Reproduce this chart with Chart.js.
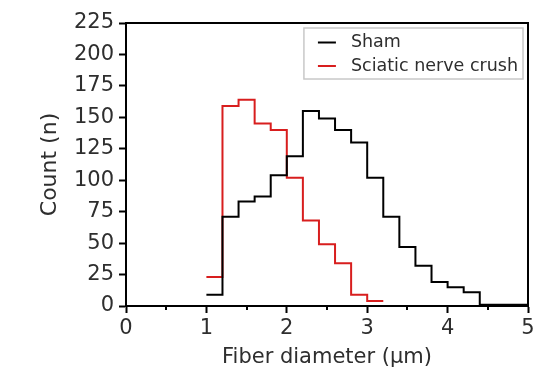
<!DOCTYPE html>
<html>
<head>
<meta charset="utf-8">
<script src="https://cdn.jsdelivr.net/npm/chart.js@4/dist/chart.umd.min.js"></script>
<style>
  html, body { margin: 0; padding: 0; background: #fff; }
  #wrap { width: 559px; height: 371px; }
</style>
</head>
<body>
<div id="wrap"><canvas id="c" width="559" height="371"></canvas></div>
<script>
// ---- data ----
const binWidth = 0.2;
const shamBinStarts = [1.0, 1.2, 1.4, 1.6, 1.8, 2.0, 2.2, 2.4, 2.6, 2.8, 3.0, 3.2, 3.4, 3.6, 3.8, 4.0, 4.2, 4.4, 4.6, 4.8];
const shamCounts    = [9, 71, 83, 87, 104, 119, 155, 149, 140, 130, 102, 71, 47, 32, 19, 15, 11, 1, 1, 1];
const crushBinStarts = [1.0, 1.2, 1.4, 1.6, 1.8, 2.0, 2.2, 2.4, 2.6, 2.8, 3.0];
const crushCounts    = [23, 159, 164, 145, 140, 102, 68, 49, 34, 9, 4];
const seriesLabels = ['Sham', 'Sciatic nerve crush'];
const xTicks = [0, 1, 2, 3, 4, 5];
const yTicks = [0, 25, 50, 75, 100, 125, 150, 175, 200, 225];

function stepPoints(starts, counts) {
  const pts = starts.map((s, i) => ({ x: s, y: counts[i] }));
  pts.push({ x: starts[starts.length - 1] + binWidth, y: counts[counts.length - 1] });
  return pts;
}

const FONT = "'DejaVu Sans', 'Liberation Sans', Arial, sans-serif";
const TXT = '#2e2e2e';

const framePlugin = {
  id: 'frame',
  afterDraw(chart) {
    const { ctx, chartArea: a, scales } = chart;
    ctx.save();
    ctx.strokeStyle = '#000';
    ctx.lineWidth = 2;
    ctx.beginPath();
    ctx.moveTo(a.left - 1, a.top);
    ctx.lineTo(a.right, a.top);
    ctx.lineTo(a.right, a.bottom);
    ctx.stroke();
    // minor ticks on x axis (midpoints between major ticks)
    const xs = scales.x;
    const tv = xs.ticks.map(t => t.value);
    ctx.lineWidth = 2;
    for (let i = 0; i < tv.length - 1; i++) {
      const px = Math.round(xs.getPixelForValue((tv[i] + tv[i + 1]) / 2));
      ctx.beginPath();
      ctx.moveTo(px, a.bottom);
      ctx.lineTo(px, a.bottom + 4);
      ctx.stroke();
    }
    // legend box inside chart area, top-right
    ctx.font = '17.5px ' + FONT;
    const dsets = chart.data.datasets;
    let tw = 0;
    dsets.forEach(d => { tw = Math.max(tw, ctx.measureText(d.label).width); });
    const right = a.right - 5, top = a.top + 5;
    const left = right - (47 + tw + 5);
    const h = 51;
    ctx.lineWidth = 1.5;
    ctx.strokeStyle = '#c8c8c8';
    ctx.strokeRect(left, top, right - left, h);
    dsets.forEach((d, i) => {
      const cy = top + 14.5 + i * 23.5;
      ctx.strokeStyle = d.borderColor;
      ctx.lineWidth = 2;
      ctx.beginPath();
      ctx.moveTo(left + 14, cy);
      ctx.lineTo(left + 32, cy);
      ctx.stroke();
      ctx.fillStyle = TXT;
      ctx.textBaseline = 'middle';
      ctx.textAlign = 'left';
      ctx.fillText(d.label, left + 47, cy);
    });
    ctx.restore();
  }
};

new Chart(document.getElementById('c'), {
  type: 'line',
  data: {
    datasets: [
      {
        label: seriesLabels[0],
        data: stepPoints(shamBinStarts, shamCounts),
        borderColor: '#000000',
        borderWidth: 2,
        stepped: 'before',
        pointRadius: 0,
        fill: false
      },
      {
        label: seriesLabels[1],
        data: stepPoints(crushBinStarts, crushCounts),
        borderColor: '#d81e1e',
        borderWidth: 2,
        stepped: 'before',
        pointRadius: 0,
        fill: false
      }
    ]
  },
  options: {
    responsive: false,
    animation: false,
    devicePixelRatio: 1,
    layout: { padding: { left: 0, right: 31, top: 23, bottom: 0 } },
    plugins: {
      legend: { display: false },
      tooltip: { enabled: false }
    },
    scales: {
      x: {
        type: 'linear',
        min: xTicks[0],
        max: xTicks[xTicks.length - 1],
        afterBuildTicks(scale) { scale.ticks = xTicks.map(v => ({ value: v })); },
        afterFit(scale) { scale.height = 65; },
        ticks: {
          font: { family: FONT, size: 21 },
          color: TXT,
          padding: 3,
          maxRotation: 0
        },
        grid: {
          drawOnChartArea: false,
          drawTicks: true,
          tickLength: 7,
          tickWidth: 2,
          tickColor: '#000'
        },
        border: { display: true, color: '#000', width: 2 },
        title: {
          display: true,
          text: 'Fiber diameter (μm)',
          font: { family: FONT, size: 21 },
          color: TXT,
          padding: { top: 2, bottom: 1 }
        }
      },
      y: {
        type: 'linear',
        min: yTicks[0],
        max: yTicks[yTicks.length - 1],
        afterBuildTicks(scale) { scale.ticks = yTicks.map(v => ({ value: v })); },
        afterFit(scale) { scale.width = 126; },
        ticks: {
          font: { family: FONT, size: 21 },
          color: TXT,
          padding: 5
        },
        grid: {
          drawOnChartArea: false,
          drawTicks: true,
          tickLength: 7,
          tickWidth: 2,
          tickColor: '#000'
        },
        border: { display: true, color: '#000', width: 2 },
        title: {
          display: true,
          text: 'Count (n)',
          font: { family: FONT, size: 22 },
          color: TXT,
          padding: { top: 37, bottom: 0 }
        }
      }
    }
  },
  plugins: [framePlugin]
});
</script>
</body>
</html>
